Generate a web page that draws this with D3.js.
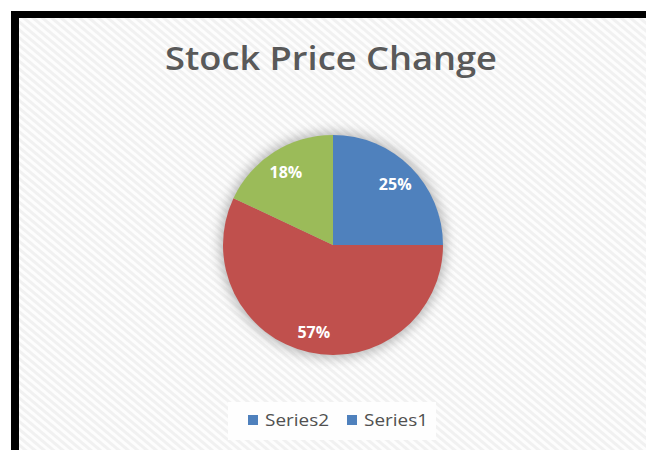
<!DOCTYPE html>
<html lang="en">
<head>
<meta charset="utf-8">
<script src="https://cdn.jsdelivr.net/npm/d3@7"></script>
<style>
  body { margin: 0; background: #fff; }
  svg { display: block; }
</style>
<title>Stock Price Change</title>
</head>
<body>
<div id="chart"></div>
<script>
// data
var categories = ["Q1", "Q2", "Q3"];
var values = [25, 57, 18];
var colors = ["#4f81bd", "#c0504d", "#9bbb59"];
var legendNames = ["Series2", "Series1"];
var legendColors = ["#4f81bd", "#4f81bd"];

var width = 646, height = 450;
var cx = 333, cy = 245, radius = 110;

var svg = d3.select("#chart").append("svg")
  .attr("width", width)
  .attr("height", height);

var defs = svg.append("defs");

// diagonal hatch background
var pat = defs.append("pattern")
  .attr("id", "hatch")
  .attr("patternUnits", "userSpaceOnUse")
  .attr("width", 6).attr("height", 6)
  .attr("patternTransform", "rotate(40)");
pat.append("rect").attr("width", 6).attr("height", 6).attr("fill", "#f1f1f1");
pat.append("rect").attr("width", 6).attr("height", 3).attr("fill", "#fdfdfd");

var shadow = defs.append("filter")
  .attr("id", "glow")
  .attr("x", "-30%").attr("y", "-30%")
  .attr("width", "160%").attr("height", "160%");
shadow.append("feGaussianBlur").attr("stdDeviation", 6);

// chart area
svg.append("rect")
  .attr("x", 11).attr("y", 11)
  .attr("width", width - 11).attr("height", height - 11)
  .attr("fill", "#000");
svg.append("rect")
  .attr("x", 19).attr("y", 18)
  .attr("width", width - 19).attr("height", height - 18)
  .attr("fill", "url(#hatch)");

// title
svg.append("text")
  .attr("x", 331).attr("y", 70)
  .attr("text-anchor", "middle")
  .attr("textLength", 332)
  .attr("lengthAdjust", "spacingAndGlyphs")
  .style("font-family", "'Open Sans', sans-serif")
  .style("font-weight", "600")
  .style("font-size", "33px")
  .style("fill", "#595959")
  .text("Stock Price Change");

// pie
var pie = d3.pie().sort(null).value(function(d) { return d; });
var arcs = pie(values);
var arc = d3.arc().innerRadius(0).outerRadius(radius);
var labelArc = d3.arc().innerRadius(radius * 0.8).outerRadius(radius * 0.8);

var g = svg.append("g").attr("transform", "translate(" + cx + "," + cy + ")");

g.append("circle")
  .attr("r", radius + 3)
  .attr("fill", "#8a8a8a")
  .attr("opacity", 0.6)
  .attr("filter", "url(#glow)");

g.selectAll("path.slice")
  .data(arcs)
  .enter()
  .append("path")
  .attr("class", "slice")
  .attr("d", arc)
  .attr("fill", function(d, i) { return colors[i]; });

g.selectAll("text.lbl")
  .data(arcs)
  .enter()
  .append("text")
  .attr("class", "lbl")
  .attr("transform", function(d) { return "translate(" + labelArc.centroid(d) + ")"; })
  .attr("text-anchor", "middle")
  .attr("dy", "0.45em")
  .style("font-family", "'Open Sans', sans-serif")
  .style("font-weight", "700")
  .style("font-size", "16px")
  .style("fill", "#fff")
  .text(function(d) { return d.data + "%"; });

// legend
var legend = svg.append("g").attr("transform", "translate(228,402)");
legend.append("rect")
  .attr("width", 208).attr("height", 38)
  .attr("fill", "#fefefe");

var item = legend.selectAll("g.item")
  .data(legendNames)
  .enter()
  .append("g")
  .attr("class", "item")
  .attr("transform", function(d, i) { return "translate(" + (20 + i * 99) + ",13)"; });
item.append("rect")
  .attr("width", 10).attr("height", 10)
  .attr("fill", function(d, i) { return legendColors[i]; });
item.append("text")
  .attr("x", 17).attr("y", 5)
  .attr("dy", "0.35em")
  .attr("textLength", 64)
  .attr("lengthAdjust", "spacingAndGlyphs")
  .style("font-family", "'Open Sans', sans-serif")
  .style("font-size", "17px")
  .style("fill", "#505050")
  .text(function(d) { return d; });
</script>
</body>
</html>
